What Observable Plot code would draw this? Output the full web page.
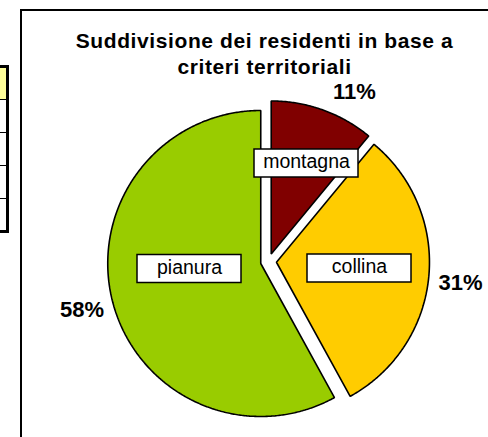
<!DOCTYPE html>
<html>
<head>
<meta charset="utf-8">
<script src="https://cdn.jsdelivr.net/npm/d3@7"></script>
<script src="https://cdn.jsdelivr.net/npm/@observablehq/plot@0.6"></script>
<style>
  html, body { margin: 0; padding: 0; background: #fff; }
  svg { display: block; }
</style>
</head>
<body>
<div id="chart"></div>
<script>
// ---- data ----
const categories = ["montagna", "collina", "pianura"];
const values = [11, 31, 58];
const percentLabels = ["11%", "31%", "58%"];
const colors = ["#800000", "#FFCC00", "#99CC00"];
const titleLines = ["Suddivisione dei residenti in base a", "criteri territoriali"];
const tableRows = [0, 1, 2, 3, 4];

// ---- layout (pixel units of the identity scales) ----
const W = 488, H = 437;
const pie = { cx: 268, cy: 261, r: 153, explode: 8 };
const boxPos = { montagna: [306, 163], collina: [359, 268], pianura: [189, 268.5] };
const pctPos = { montagna: [354, 91], collina: [460, 282], pianura: [81.5, 309] };
const boxW = 104, boxH = 28;
const table = { x1: -10, x2: 7.5, y0: 66.5, rowH: 33 };

const slices = d3.pie().sort(null).startAngle(0).endAngle(2 * Math.PI)
  .value(d => d.value)(categories.map((c, i) => ({ cat: c, value: values[i], color: colors[i] })));

const pts = [];
for (const s of slices) {
  const mid = (s.startAngle + s.endAngle) / 2;
  const ox = pie.cx + pie.explode * Math.sin(mid);
  const oy = pie.cy - pie.explode * Math.cos(mid);
  pts.push({ cat: s.data.cat, color: s.data.color, x: ox, y: oy });
  const n = Math.max(8, Math.ceil((s.endAngle - s.startAngle) / (Math.PI / 360)));
  for (let k = 0; k <= n; k++) {
    const a = s.startAngle + (s.endAngle - s.startAngle) * k / n;
    pts.push({ cat: s.data.cat, color: s.data.color, x: ox + pie.r * Math.sin(a), y: oy - pie.r * Math.cos(a) });
  }
}

const labels = categories.map((c, i) => ({ cat: c, pct: percentLabels[i],
  bx: boxPos[c][0], by: boxPos[c][1], px: pctPos[c][0], py: pctPos[c][1] }));

const font = "'Liberation Sans', Arial, Helvetica, sans-serif";

const chart = Plot.plot({
  width: W, height: H, margin: 0,
  x: { domain: [0, W], range: [0, W], axis: null },
  y: { domain: [0, H], range: [0, H], axis: null },
  color: { type: "identity" },
  style: { fontFamily: font, background: "#fff", overflow: "hidden" },
  marks: [
    // spreadsheet table stub on the left
    Plot.rect(tableRows, {
      x1: table.x1, x2: table.x2,
      y1: d => table.y0 + d * table.rowH, y2: d => table.y0 + (d + 1) * table.rowH,
      fill: d => d === 0 ? "#FFFF99" : "#fff", stroke: "#000", strokeWidth: 1
    }),
    Plot.rect([0], {
      x1: table.x1, x2: table.x2, y1: table.y0, y2: table.y0 + tableRows.length * table.rowH,
      fill: "none", stroke: "#000", strokeWidth: 3
    }),
    // chart area frame
    Plot.rect([0], { x1: 21, x2: W + 20, y1: 10, y2: H + 20, fill: "#fff", stroke: "#000", strokeWidth: 2 }),
    // title
    Plot.text(titleLines, {
      x: 264, y: (d, i) => 47 + i * 26 - 0.32 * 21, text: d => d,
      fontSize: 21, fontWeight: "bold", fill: "#000", lineAnchor: "middle", ariaLabel: () => "charttitle"
    }),
    // pie slices
    Plot.line(pts, {
      x: "x", y: "y", z: "cat", fill: "color", stroke: "#000", strokeWidth: 1.6,
      curve: "linear-closed", strokeLinejoin: "miter"
    }),
    // category boxes
    Plot.rect(labels, {
      x1: d => d.bx - boxW / 2, x2: d => d.bx + boxW / 2,
      y1: d => d.by - boxH / 2, y2: d => d.by + boxH / 2,
      fill: "#fff", stroke: "#000", strokeWidth: 1.5
    }),
    Plot.text(labels, {
      x: "bx", y: d => d.by - 1.5, text: "cat", fontSize: 19.5, fill: "#000", lineAnchor: "middle"
    }),
    // percentages
    Plot.text(labels, {
      x: "px", y: "py", text: "pct", fontSize: 22, fontWeight: "bold", fill: "#000", lineAnchor: "middle"
    })
  ]
});

d3.select(chart).selectAll("text")
  .filter(function () { return titleLines.includes(this.textContent); })
  .attr("letter-spacing", "0.6px");
document.getElementById("chart").appendChild(chart);
</script>
</body>
</html>
